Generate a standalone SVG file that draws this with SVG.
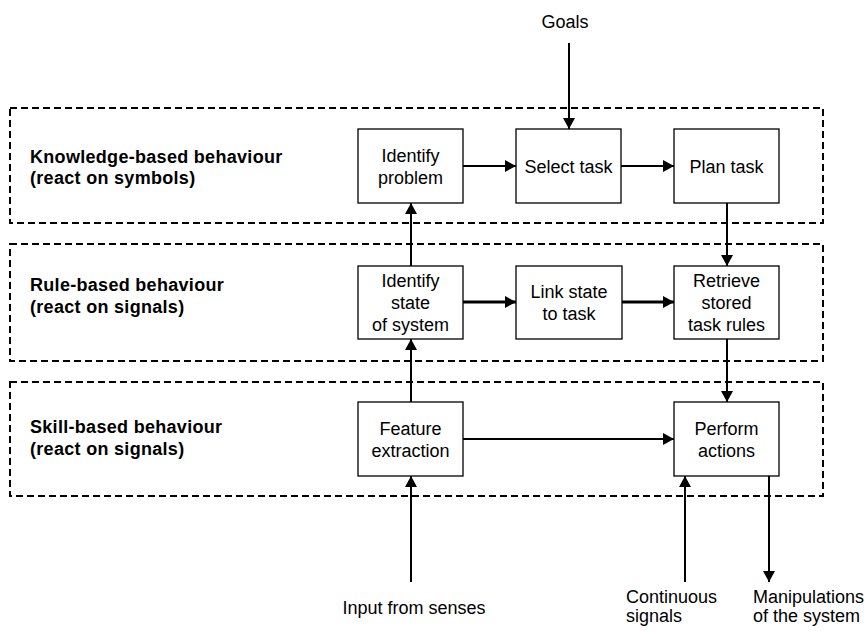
<svg xmlns="http://www.w3.org/2000/svg" width="866" height="631" viewBox="0 0 866 631">
  <style>
    .layer { fill: none; stroke: #000; stroke-width: 2; stroke-dasharray: 7 4; }
    .box { fill: #fff; stroke: #000; stroke-width: 1.3; }
    .t { font-family: "Liberation Sans", Arial, sans-serif; font-size: 18px; fill: #000; }
    .c { text-anchor: middle; }
    .lbl { font-family: "Liberation Sans", Arial, sans-serif; font-size: 18px; font-weight: bold; fill: #000; letter-spacing: 0.3px; }
    .arr { fill: none; stroke: #000; stroke-width: 2; marker-end: url(#head); }
    .thick { stroke-width: 3; }
  </style>
  <defs>
    <marker id="head" markerUnits="userSpaceOnUse" markerWidth="14" markerHeight="14" refX="11" refY="6" orient="auto">
      <path d="M0,0 L11,6 L0,12 Z" fill="#000"/>
    </marker>
  </defs>

  <rect width="866" height="631" fill="#fff"/>

  <!-- behaviour layers -->
  <g id="layer-knowledge">
    <rect class="layer" x="10" y="108" width="813" height="115"/>
    <text class="lbl" x="30" y="163">Knowledge-based behaviour</text>
    <text class="lbl" x="30" y="184">(react on symbols)</text>
  </g>
  <g id="layer-rule">
    <rect class="layer" x="10" y="244" width="813" height="117"/>
    <text class="lbl" x="30" y="291">Rule-based behaviour</text>
    <text class="lbl" x="30" y="313">(react on signals)</text>
  </g>
  <g id="layer-skill">
    <rect class="layer" x="10" y="382" width="813" height="114"/>
    <text class="lbl" x="30" y="433">Skill-based behaviour</text>
    <text class="lbl" x="30" y="455">(react on signals)</text>
  </g>

  <!-- connectors -->
  <g id="connectors">
    <line class="arr" x1="569" y1="43" x2="569" y2="129"/>
    <line class="arr" x1="463" y1="166" x2="516" y2="166"/>
    <line class="arr" x1="621" y1="166" x2="674" y2="166"/>
    <line class="arr" x1="727" y1="203" x2="727" y2="266"/>
    <line class="arr" x1="411" y1="266" x2="411" y2="203"/>
    <line class="arr thick" x1="463" y1="302" x2="516" y2="302"/>
    <line class="arr thick" x1="622" y1="302" x2="674" y2="302"/>
    <line class="arr" x1="727" y1="339" x2="727" y2="402"/>
    <line class="arr" x1="411" y1="402" x2="411" y2="339"/>
    <line class="arr" x1="463" y1="439" x2="674" y2="439"/>
    <line class="arr" x1="411" y1="582" x2="411" y2="476"/>
    <line class="arr" x1="685" y1="582" x2="685" y2="476"/>
    <line class="arr" x1="769" y1="476" x2="769" y2="582"/>
  </g>

  <!-- knowledge level nodes -->
  <g id="identify-problem">
    <rect class="box" x="358" y="129" width="105" height="74"/>
    <text class="t c" x="410.5" y="162">Identify</text>
    <text class="t c" x="410.5" y="184">problem</text>
  </g>
  <g id="select-task">
    <rect class="box" x="516" y="129" width="105" height="74"/>
    <text class="t c" x="568.5" y="172.5">Select task</text>
  </g>
  <g id="plan-task">
    <rect class="box" x="674" y="129" width="105" height="74"/>
    <text class="t c" x="726.5" y="172.5">Plan task</text>
  </g>

  <!-- rule level nodes -->
  <g id="identify-state">
    <rect class="box" x="358" y="266" width="105" height="73"/>
    <text class="t c" x="410.5" y="287">Identify</text>
    <text class="t c" x="410.5" y="309">state</text>
    <text class="t c" x="410.5" y="331">of system</text>
  </g>
  <g id="link-state">
    <rect class="box" x="516" y="266" width="106" height="73"/>
    <text class="t c" x="569" y="298">Link state</text>
    <text class="t c" x="569" y="320">to task</text>
  </g>
  <g id="retrieve-rules">
    <rect class="box" x="674" y="266" width="105" height="73"/>
    <text class="t c" x="726.5" y="287">Retrieve</text>
    <text class="t c" x="726.5" y="309">stored</text>
    <text class="t c" x="726.5" y="331">task rules</text>
  </g>

  <!-- skill level nodes -->
  <g id="feature-extraction">
    <rect class="box" x="358" y="402" width="105" height="74"/>
    <text class="t c" x="410.5" y="435">Feature</text>
    <text class="t c" x="410.5" y="457">extraction</text>
  </g>
  <g id="perform-actions">
    <rect class="box" x="674" y="402" width="105" height="74"/>
    <text class="t c" x="726.5" y="435">Perform</text>
    <text class="t c" x="726.5" y="457">actions</text>
  </g>

  <!-- external inputs and outputs -->
  <g id="goals">
    <text class="t c" x="565" y="28">Goals</text>
  </g>
  <g id="input-senses">
    <text class="t c" x="414" y="614">Input from senses</text>
  </g>
  <g id="continuous-signals">
    <text class="t" x="626" y="603">Continuous</text>
    <text class="t" x="626" y="622">signals</text>
  </g>
  <g id="manipulations">
    <text class="t" x="753" y="603">Manipulations</text>
    <text class="t" x="753" y="622">of the system</text>
  </g>
</svg>
